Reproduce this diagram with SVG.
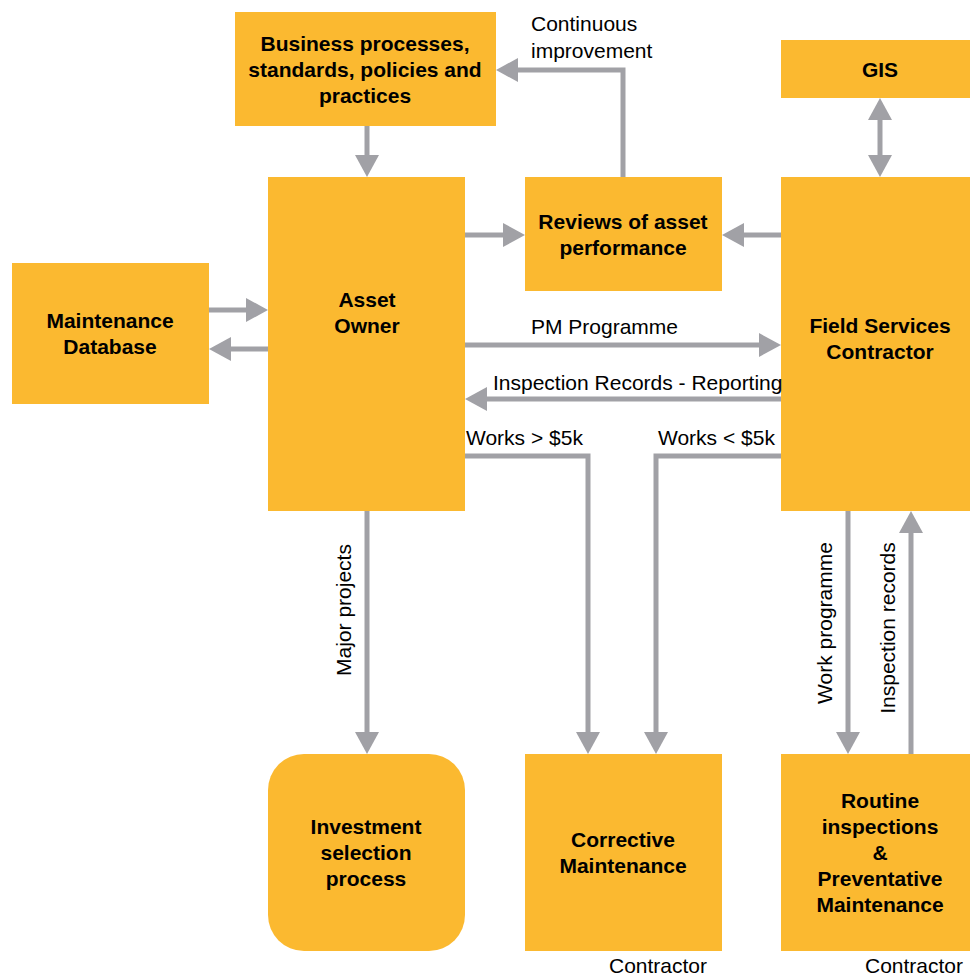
<svg xmlns="http://www.w3.org/2000/svg" width="970" height="976" viewBox="0 0 970 976">
  <style>
    .box { fill: #FBB930; }
    .t { font-family: "Liberation Sans", Arial, sans-serif; font-size: 21px; font-weight: bold; fill: #000; text-anchor: middle; }
    .lbl { font-family: "Liberation Sans", Arial, sans-serif; font-size: 21px; fill: #000; }
    .c { fill: none; stroke: #A1A1A6; stroke-width: 5; }
  </style>
  <defs>
    <marker id="ah" markerUnits="userSpaceOnUse" markerWidth="24" markerHeight="24" refX="12" refY="12" orient="auto-start-reverse">
      <path d="M0,0 L22,12 L0,24 z" fill="#A1A1A6"/>
    </marker>
  </defs>
  <rect width="970" height="976" fill="#fff"/>

  <g id="business">
    <rect class="box" x="235" y="12" width="261" height="114"/>
    <text class="t" x="365" y="51">Business processes,</text>
    <text class="t" x="365" y="77">standards, policies and</text>
    <text class="t" x="365" y="103">practices</text>
  </g>
  <g id="gis">
    <rect class="box" x="781" y="40" width="189" height="58"/>
    <text class="t" x="880" y="77">GIS</text>
  </g>
  <g id="asset-owner">
    <rect class="box" x="268" y="177" width="197" height="334"/>
    <text class="t" x="367" y="307">Asset</text>
    <text class="t" x="367" y="333">Owner</text>
  </g>
  <g id="reviews">
    <rect class="box" x="525" y="177" width="197" height="114"/>
    <text class="t" x="623" y="229">Reviews of asset</text>
    <text class="t" x="623" y="255">performance</text>
  </g>
  <g id="field-services">
    <rect class="box" x="781" y="177" width="189" height="334"/>
    <text class="t" x="880" y="333">Field Services</text>
    <text class="t" x="880" y="359">Contractor</text>
  </g>
  <g id="maintenance-db">
    <rect class="box" x="12" y="263" width="197" height="141"/>
    <text class="t" x="110" y="328">Maintenance</text>
    <text class="t" x="110" y="354">Database</text>
  </g>
  <g id="investment">
    <rect class="box" x="268" y="754" width="197" height="197" rx="36" ry="36"/>
    <text class="t" x="366" y="834">Investment</text>
    <text class="t" x="366" y="860">selection</text>
    <text class="t" x="366" y="886">process</text>
  </g>
  <g id="corrective">
    <rect class="box" x="525" y="754" width="197" height="197"/>
    <text class="t" x="623" y="847">Corrective</text>
    <text class="t" x="623" y="873">Maintenance</text>
  </g>
  <g id="routine">
    <rect class="box" x="781" y="754" width="189" height="197"/>
    <text class="t" x="880" y="808">Routine</text>
    <text class="t" x="880" y="834">inspections</text>
    <text class="t" x="880" y="860">&amp;</text>
    <text class="t" x="880" y="886">Preventative</text>
    <text class="t" x="880" y="912">Maintenance</text>
  </g>

  <g id="connectors">
    <path class="c" d="M367,126 V167" marker-end="url(#ah)"/>
    <path class="c" d="M623,177 V70 H506" marker-end="url(#ah)"/>
    <path class="c" d="M465,235 H515" marker-end="url(#ah)"/>
    <path class="c" d="M781,235 H732" marker-end="url(#ah)"/>
    <path class="c" d="M880,108 V167" marker-start="url(#ah)" marker-end="url(#ah)"/>
    <path class="c" d="M209,310 H258" marker-end="url(#ah)"/>
    <path class="c" d="M268,349 H219" marker-end="url(#ah)"/>
    <path class="c" d="M465,345 H771" marker-end="url(#ah)"/>
    <path class="c" d="M781,399 H475" marker-end="url(#ah)"/>
    <path class="c" d="M465,456 H588 V744" marker-end="url(#ah)"/>
    <path class="c" d="M781,456 H656 V744" marker-end="url(#ah)"/>
    <path class="c" d="M367,511 V744" marker-end="url(#ah)"/>
    <path class="c" d="M848,511 V744" marker-end="url(#ah)"/>
    <path class="c" d="M911,754 V521" marker-end="url(#ah)"/>

    <text class="lbl" x="531" y="31">Continuous</text>
    <text class="lbl" x="531" y="58">improvement</text>
    <text class="lbl" x="531" y="334">PM Programme</text>
    <text class="lbl" x="493" y="390">Inspection Records - Reporting</text>
    <text class="lbl" x="466" y="445">Works &gt; $5k</text>
    <text class="lbl" x="658" y="445">Works &lt; $5k</text>
    <text class="lbl" text-anchor="middle" transform="translate(351,610) rotate(-90)">Major projects</text>
    <text class="lbl" text-anchor="middle" transform="translate(832,623) rotate(-90)">Work programme</text>
    <text class="lbl" text-anchor="middle" transform="translate(895,628) rotate(-90)">Inspection records</text>
    <text class="lbl" x="609" y="973">Contractor</text>
    <text class="lbl" x="865" y="973">Contractor</text>
  </g>
</svg>
